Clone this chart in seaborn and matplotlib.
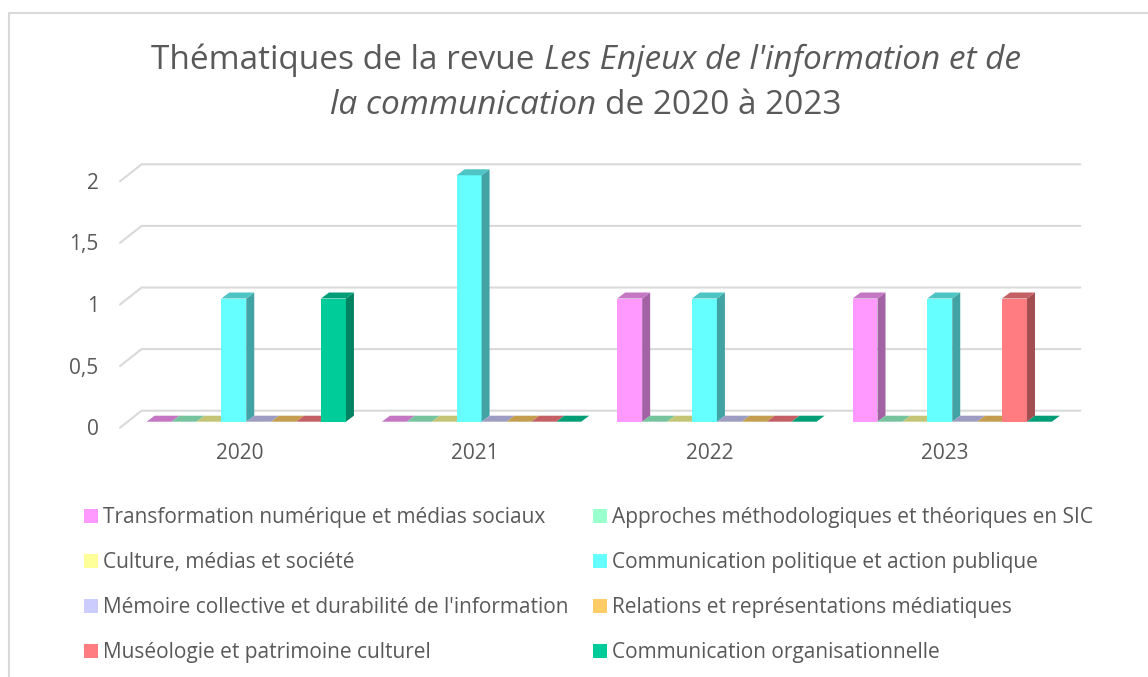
import matplotlib
matplotlib.use('Agg')
import numpy as np
import pandas as pd
import matplotlib.pyplot as plt
import matplotlib.colors as mcolors
import seaborn as sns
from matplotlib.patches import Polygon, Patch, Rectangle
from matplotlib.lines import Line2D
from matplotlib.transforms import IdentityTransform, ScaledTranslation

# Data
years = ['2020', '2021', '2022', '2023']
themes = [
    'Transformation numérique et médias sociaux',
    'Approches méthodologiques et théoriques en SIC',
    'Culture, médias et société',
    'Communication politique et action publique',
    "Mémoire collective et durabilité de l'information",
    'Relations et représentations médiatiques',
    'Muséologie et patrimoine culturel',
    'Communication organisationnelle',
]
transformation = [0, 0, 1, 1]
approches = [0, 0, 0, 0]
culture = [0, 0, 0, 0]
comm_politique = [1, 2, 1, 1]
memoire = [0, 0, 0, 0]
relations = [0, 0, 0, 0]
museologie = [0, 0, 0, 1]
comm_orga = [1, 0, 0, 0]
colors = ['#FF99FF', '#99FFCC', '#FFFF99', '#66FFFF',
          '#CCCCFF', '#FFCC66', '#FF7C80', '#00CC99']
yticks = [0, 0.5, 1, 1.5, 2]
ytick_labels = ['0', '0,5', '1', '1,5', '2']

series = [transformation, approches, culture, comm_politique,
          memoire, relations, museologie, comm_orga]
df = pd.DataFrame({
    'annee': years * len(themes),
    'theme': [t for t in themes for _ in years],
    'n': sum(series, []),
})

sns.set_theme(style='white')
plt.rcParams['font.family'] = ['Open Sans', 'DejaVu Sans']
grey = '#595959'

W, H = 1148, 677
fig = plt.figure(figsize=(W / 100, H / 100), dpi=100)
ax = fig.add_axes([128.6 / W, 255.3 / H, 941.3 / W, 246.4 / H])

sns.barplot(data=df, x='annee', y='n', hue='theme', order=years, hue_order=themes,
            palette=dict(zip(themes, colors)), width=0.847, saturation=1,
            errorbar=None, legend=False, linewidth=0, ax=ax)
ax.set_xlim(-0.5, 3.5)
ax.set_ylim(0, 2)
ax.patch.set_visible(False)
sns.despine(ax=ax, left=True, bottom=True)
ax.set_xlabel('')
ax.set_ylabel('')

# fake 3D: side and top faces for each bar
DX, DY = 8, 6
bars = sorted([p for p in ax.patches if isinstance(p, Rectangle)], key=lambda p: p.get_x())
for k, p in enumerate(bars):
    z = 3 + k * 0.01
    p.set_zorder(z)
    x0, y0 = ax.transData.transform((p.get_x(), 0))
    x1, y1 = ax.transData.transform((p.get_x() + p.get_width(), p.get_height()))
    rgb = np.array(mcolors.to_rgb(p.get_facecolor()))
    side = Polygon([(x1, y0), (x1 + DX, y0 + DY), (x1 + DX, y1 + DY), (x1, y1)],
                   transform=IdentityTransform(), facecolor=rgb * 0.64,
                   edgecolor='none', clip_on=False, zorder=z)
    top = Polygon([(x0, y1), (x0 + DX, y1 + DY), (x1 + DX, y1 + DY), (x1, y1)],
                  transform=IdentityTransform(), facecolor=rgb * 0.77,
                  edgecolor='none', clip_on=False, zorder=z)
    ax.add_patch(side)
    ax.add_patch(top)

# back-wall gridlines with the little diagonal on the left
left = ax.transData.transform((-0.5, 0))[0]
right = ax.transData.transform((3.5, 0))[0]
for v in yticks:
    yb = ax.transData.transform((0, v))[1] + 11
    ax.add_line(Line2D([left - 8.6, left + 13, right + 10.5], [yb - 17, yb, yb],
                       transform=IdentityTransform(), color='#d9d9d9', lw=1.5,
                       clip_on=False, zorder=1))
ax.set_xlim(-0.5, 3.5)
ax.set_ylim(0, 2)

ax.set_yticks(yticks)
ax.set_yticklabels(ytick_labels)
ax.tick_params(axis='y', length=0, pad=21.6, labelsize=15, labelcolor=grey)
ax.tick_params(axis='x', length=0, pad=15, labelsize=15, labelcolor=grey)
for lab in ax.get_yticklabels():
    lab.set_transform(lab.get_transform() + ScaledTranslation(0, -5.5 / 100, fig.dpi_scale_trans))
for lab in ax.get_xticklabels():
    lab.set_transform(lab.get_transform() + ScaledTranslation(-7 / 100, 0, fig.dpi_scale_trans))

# chart border (top and left only visible)
fig.add_artist(Line2D([8.5 / W, 8.5 / W, 1.0], [0, (H - 13) / H, (H - 13) / H],
                      transform=fig.transFigure, color='#d9d9d9', lw=1.5))

# title with italic journal name
renderer = fig.canvas.get_renderer()


def title_line(pieces, cy, cx=586, size=24):
    probe1 = fig.text(0, 0, 'x x', fontsize=size)
    probe2 = fig.text(0, 0, 'xx', fontsize=size)
    space = probe1.get_window_extent(renderer).width - probe2.get_window_extent(renderer).width
    probe1.remove()
    probe2.remove()
    texts = [fig.text(0, 1 - cy / H, s, fontsize=size, style=st, color=grey,
                      va='center', ha='left') for s, st in pieces]
    widths = [t.get_window_extent(renderer).width for t in texts]
    x = cx - (sum(widths) + space * (len(texts) - 1)) / 2
    for t, w in zip(texts, widths):
        t.set_x(x / W)
        x += w + space


title_line([('Thématiques de la revue', 'normal'),
            ("Les Enjeux de l'information et de", 'italic')], 60)
title_line([('la communication', 'italic'),
            ('de 2020 à 2023', 'normal')], 106)

# legend, filled row by row like the original
handles = [Patch(facecolor=c, edgecolor='none') for c in colors]
order = [0, 2, 4, 6, 1, 3, 5, 7]
fig.legend([handles[i] for i in order], [themes[i] for i in order], ncol=2,
           loc='upper left', bbox_to_anchor=(84 / W, 1 - 507 / H), frameon=False,
           fontsize=15, handlelength=0.66, handleheight=0.66, handletextpad=0.24,
           columnspacing=1.2, labelspacing=1.15, borderpad=0, borderaxespad=0,
           labelcolor=grey)

fig.savefig('out.png', dpi=100, facecolor='white')
